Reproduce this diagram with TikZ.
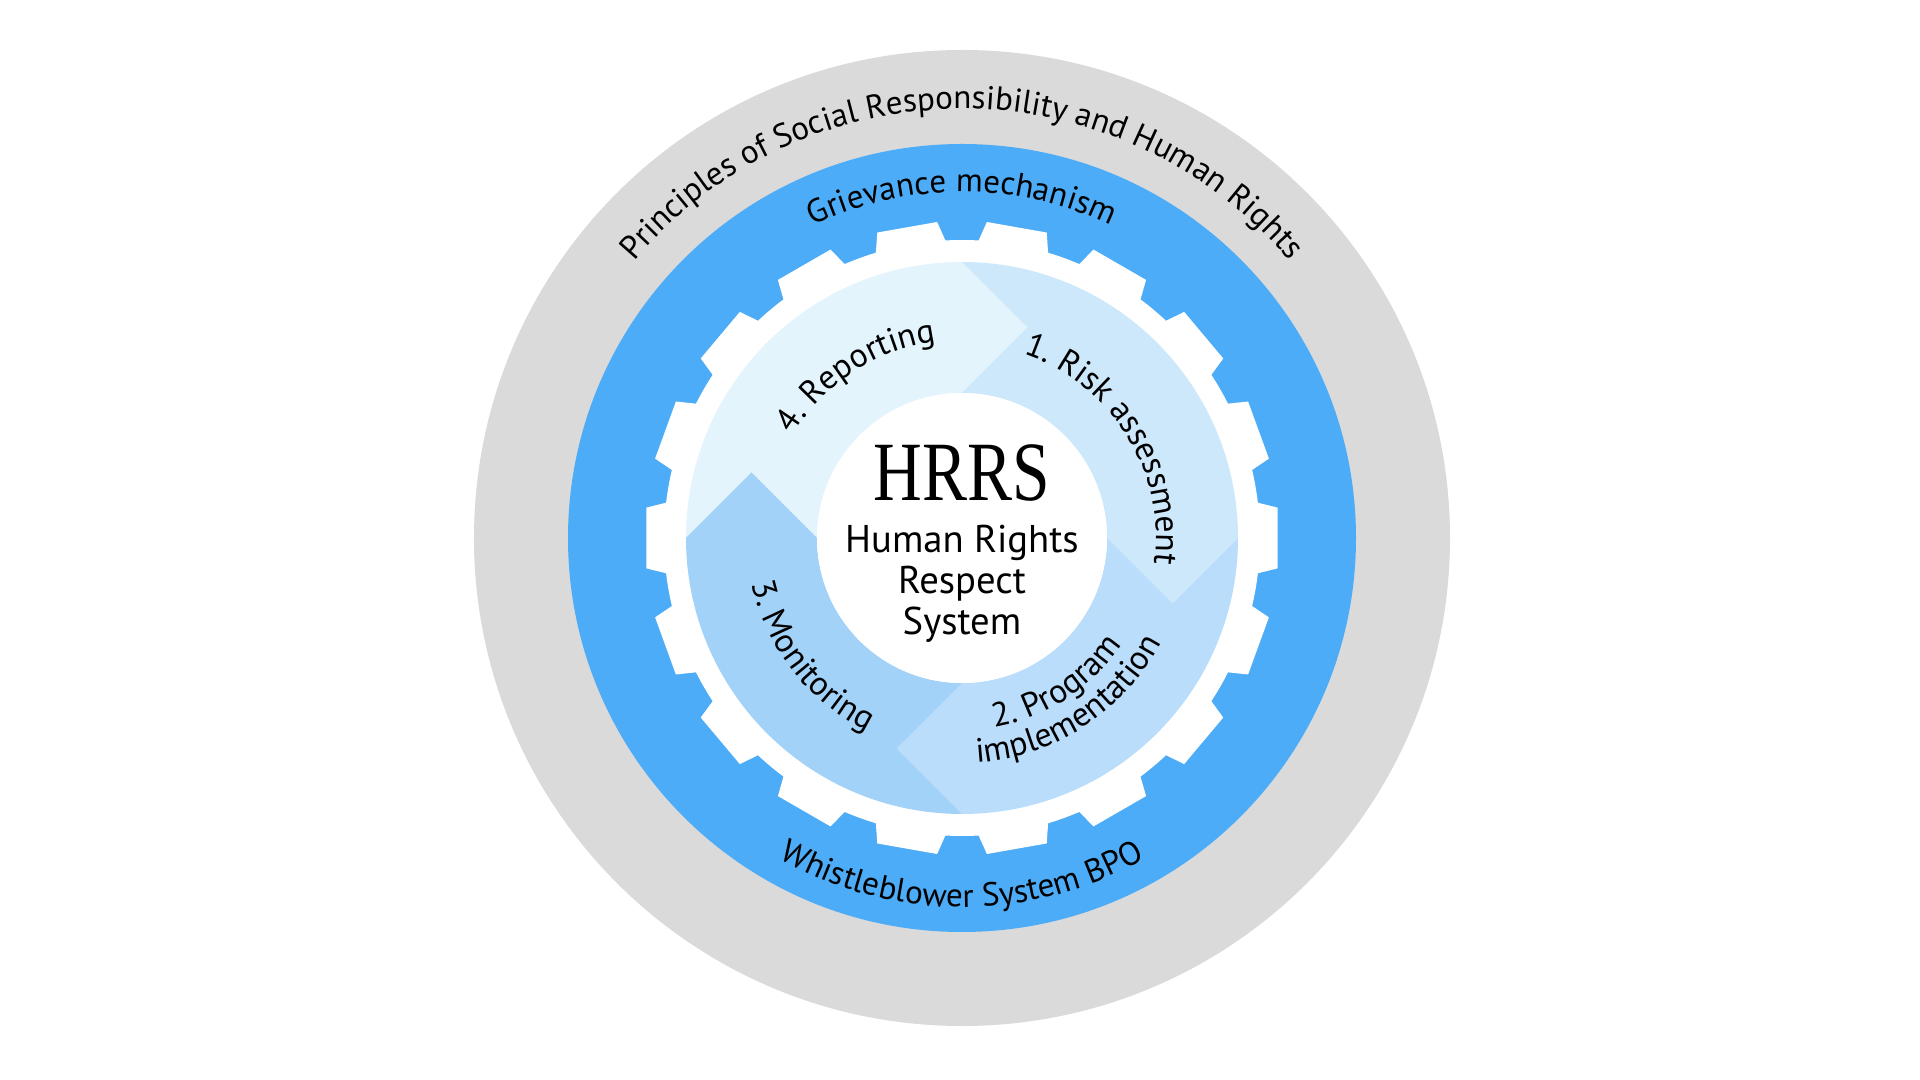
\documentclass[tikz,border=0pt]{standalone}
\usepackage{fontspec}
\setsansfont{PT Sans}
\newfontfamily\hrrsfont{Liberation Serif}
\usetikzlibrary{decorations.text,calc,positioning}

\definecolor{bandgray}{HTML}{DADADA}
\definecolor{bandblue}{HTML}{4DACF7}
\definecolor{step one}{HTML}{CDE7FB}
\definecolor{step two}{HTML}{B9DDFB}
\definecolor{step three}{HTML}{A3D2F9}
\definecolor{step four}{HTML}{E4F4FD}

\newcommand{\ringfont}{\sffamily\fontsize{9.4}{9.4}\selectfont}
\newcommand{\stepfont}{\sffamily\fontsize{9.6}{9.6}\selectfont}

\tikzstyle{core}=[
    circle,
    fill = white,
    minimum size = 29mm,
    inner sep = 0pt
]
\tikzset{arc label/.style={decorate, decoration={text along path, text align=center, text={#1}}}}

\begin{document}
\begin{tikzpicture}
    \fill[white] (-9.62,-5.42) rectangle (9.58,5.38);
    \useasboundingbox (-9.62,-5.42) rectangle (9.58,5.38);

    % outer bands
    \fill[bandgray] (0,0) circle (4.88);
    \fill[bandblue] (0,0) circle (3.94);

    % gear wheel
    \fill[white] (-6.8:2.98) \foreach \k in {0,...,17}{
        -- ({20*\k-6.8}:2.98) -- ({20*\k-5.5}:3.17) -- ({20*\k+5.5}:3.17) -- ({20*\k+6.8}:2.98)
        arc[start angle={20*\k+6.8}, end angle={20*\k+13.2}, radius=2.98]} -- cycle;

    % four steps, each one pointing clockwise into the next
    \foreach \a/\col in {180/step four, 90/step one, 0/step two, -90/step three}
        \fill[\col] (\a:2.76) arc[start angle=\a, end angle={\a-90}, radius=2.76]
            -- ($({\a-90}:2.105)+({\a-180}:0.655)$) -- ({\a-90}:1.45)
            arc[start angle={\a-90}, end angle=\a, radius=1.45]
            -- ($(\a:2.105)+({\a-90}:0.655)$) -- cycle;

    \node[core] (core) at (0,0) {};
    \node[anchor=base, inner sep=0pt, font=\hrrsfont\fontsize{24}{24}\selectfont] (hrrs) at (0,0.37) {\scalebox{0.8}[1]{HRRS}};
    \node[below=2.2mm of hrrs, inner sep=0pt, align=center, font=\sffamily\fontsize{11}{11.7}\selectfont] (hrs) {Human Rights\\Respect\\System};

    % texts round the rings
    \path[arc label={|\ringfont|Principles of Social Responsibility and Human Rights}] (160:4.29) arc[start angle=160, end angle=20, radius=4.29];
    \path[arc label={|\ringfont|Grievance mechanism}] (150:3.46) arc[start angle=150, end angle=30, radius=3.46];
    \path[arc label={|\ringfont|Whistleblower System BPO}] (210:3.69) arc[start angle=210, end angle=330, radius=3.69];

    \path[arc label={|\stepfont|1. Risk assessment}] (83:1.94) arc[start angle=83, end angle=-19, radius=1.94];
    \path[arc label={|\stepfont|2. Program}] (-107:1.92) arc[start angle=-107, end angle=-7, radius=1.92];
    \path[arc label={|\stepfont|implementation}] (-107:2.25) arc[start angle=-107, end angle=-7, radius=2.25];
    \path[arc label={|\stepfont|3. Monitoring}] (168:2.15) arc[start angle=168, end angle=268, radius=2.15];
    \path[arc label={|\stepfont|4. Reporting}] (173:1.98) arc[start angle=173, end angle=73, radius=1.98];
\end{tikzpicture}
\end{document}
